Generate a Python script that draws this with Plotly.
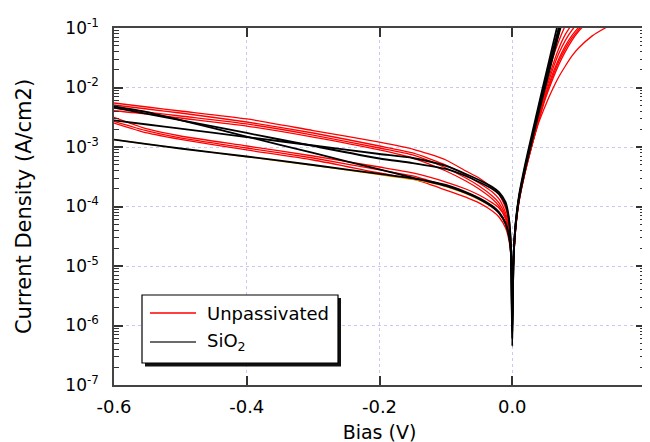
import plotly.graph_objects as go

# Bias grids (V)
v_rev = [-0.6, -0.55, -0.5, -0.4, -0.3, -0.2, -0.15, -0.1, -0.07, -0.05, -0.03, -0.02, -0.01, -0.005, -0.002, 0.0]
v_fwd = [0.002, 0.005, 0.01, 0.02, 0.03, 0.04, 0.05, 0.06, 0.07, 0.08, 0.09, 0.1, 0.12, 0.14, 0.16]

# Unpassivated devices: reverse branch |J| (A/cm2)
red_rev_1 = [5.49e-3, 4.70e-3, 4.03e-3, 2.96e-3, 1.89e-3, 1.21e-3, 9.25e-4, 6.05e-4, 3.95e-4, 3.01e-4, 2.05e-4, 1.62e-4, 9.44e-5, 5.28e-5, 2.44e-5, 3e-6]
red_rev_2 = [5.08e-3, 4.35e-3, 3.73e-3, 2.63e-3, 1.72e-3, 1.04e-3, 7.93e-4, 4.98e-4, 3.38e-4, 2.48e-4, 1.75e-4, 1.34e-4, 7.78e-5, 4.35e-5, 2.01e-5, 3e-6]
red_rev_3 = [4.52e-3, 3.87e-3, 3.32e-3, 2.44e-3, 1.59e-3, 9.62e-4, 7.34e-4, 4.44e-4, 3.01e-4, 2.21e-4, 1.50e-4, 1.15e-4, 6.92e-5, 4.03e-5, 1.86e-5, 3e-6]
red_rev_4 = [4.07e-3, 3.59e-3, 3.07e-3, 2.25e-3, 1.47e-3, 8.91e-4, 6.53e-4, 3.95e-4, 2.68e-4, 1.97e-4, 1.34e-4, 1.02e-4, 6.17e-5, 3.59e-5, 1.72e-5, 3e-6]
red_rev_5 = [3.16e-3, 2.01e-3, 1.53e-3, 1.04e-3, 7.06e-4, 4.61e-4, 3.66e-4, 2.58e-4, 1.97e-4, 1.56e-4, 1.15e-4, 9.44e-5, 6.41e-5, 4.03e-5, 2.01e-5, 3e-6]
red_rev_6 = [2.70e-3, 1.86e-3, 1.42e-3, 9.62e-4, 6.53e-4, 4.11e-4, 3.26e-4, 2.21e-4, 1.69e-4, 1.34e-4, 9.8e-5, 7.78e-5, 5.08e-5, 3.19e-5, 1.65e-5, 3e-6]
red_rev_7 = [2.53e-3, 1.72e-3, 1.34e-3, 8.91e-4, 6.05e-4, 3.66e-4, 2.90e-4, 1.89e-4, 1.44e-4, 1.15e-4, 8.40e-5, 6.66e-5, 4.35e-5, 2.73e-5, 1.47e-5, 3e-6]

# Unpassivated devices: forward branch J (A/cm2)
red_fwd_1 = [1.2e-5, 4.0e-5, 1.2e-4, 4.0e-4, 1.1e-3, 2.6e-3, 5.0e-3, 9.0e-3, 1.5e-2, 2.3e-2, 3.4e-2, 4.6e-2, 7.3e-2, 0.10, 0.13]
red_fwd_2 = [1.4e-5, 4.6e-5, 1.3e-4, 4.6e-4, 1.35e-3, 4.0e-3, 1.15e-2, 2.9e-2, 6.0e-2, 0.11, 0.18, 0.25, 0.40, 0.55, 0.70]
red_fwd_3 = [1.3e-5, 4.4e-5, 1.3e-4, 4.4e-4, 1.3e-3, 3.6e-3, 9.5e-3, 2.2e-2, 4.5e-2, 7.8e-2, 0.115, 0.16, 0.25, 0.35, 0.45]
red_fwd_4 = [1.3e-5, 4.3e-5, 1.25e-4, 4.3e-4, 1.2e-3, 3.3e-3, 8.5e-3, 1.9e-2, 3.7e-2, 6.2e-2, 9.2e-2, 0.125, 0.19, 0.26, 0.33]
red_fwd_5 = [1.2e-5, 4.2e-5, 1.2e-4, 4.2e-4, 1.15e-3, 3.0e-3, 7.5e-3, 1.6e-2, 3.0e-2, 5.0e-2, 7.5e-2, 0.102, 0.16, 0.22, 0.28]
red_fwd_6 = [1.2e-5, 4.1e-5, 1.2e-4, 4.1e-4, 1.1e-3, 2.9e-3, 7.0e-3, 1.45e-2, 2.7e-2, 4.5e-2, 6.8e-2, 0.094, 0.15, 0.21, 0.27]
red_fwd_7 = [1.2e-5, 4.0e-5, 1.15e-4, 4.0e-4, 1.1e-3, 2.8e-3, 6.5e-3, 1.3e-2, 2.4e-2, 4.0e-2, 6.2e-2, 0.088, 0.145, 0.20, 0.26]

# SiO2-passivated devices: reverse branch |J| (A/cm2)
blk_rev_1 = [4.83e-3, 3.87e-3, 2.84e-3, 1.50e-3, 7.93e-4, 4.21e-4, 3.06e-4, 2.21e-4, 1.69e-4, 1.34e-4, 9.8e-5, 7.78e-5, 5.08e-5, 3.19e-5, 1.65e-5, 6e-7]
blk_rev_2 = [2.81e-3, 2.39e-3, 2.03e-3, 1.47e-3, 1.06e-3, 7.63e-4, 6.53e-4, 4.80e-4, 3.52e-4, 2.79e-4, 2.13e-4, 1.75e-4, 1.19e-4, 6.41e-5, 2.17e-5, 4.5e-7]
blk_rev_3 = [4.61e-3, 3.61e-3, 2.84e-3, 1.72e-3, 1.04e-3, 6.41e-4, 5.38e-4, 4.27e-4, 3.26e-4, 2.58e-4, 1.97e-4, 1.62e-4, 1.06e-4, 5.93e-5, 2.17e-5, 1e-6]
blk_rev_4 = [1.33e-3, 1.12e-3, 9.44e-4, 6.92e-4, 4.98e-4, 3.52e-4, 2.96e-4, 2.30e-4, 1.75e-4, 1.39e-4, 1.02e-4, 8.09e-5, 5.28e-5, 3.32e-5, 1.65e-5, 8e-7]

# SiO2-passivated devices: forward branch J (A/cm2)
blk_fwd_1 = [1.5e-5, 5.0e-5, 1.4e-4, 5.0e-4, 1.5e-3, 4.5e-3, 1.3e-2, 3.7e-2, 0.10, 0.27, 0.7, 1.8, 5, 10, 20]
blk_fwd_2 = [1.5e-5, 5.2e-5, 1.5e-4, 5.5e-4, 1.7e-3, 5.2e-3, 1.55e-2, 4.6e-2, 0.135, 0.40, 1.0, 2.0, 5, 10, 20]
blk_fwd_3 = [1.4e-5, 4.8e-5, 1.35e-4, 4.7e-4, 1.4e-3, 4.1e-3, 1.15e-2, 3.2e-2, 8.6e-2, 0.23, 0.6, 1.5, 4, 9, 18]
blk_fwd_4 = [1.4e-5, 4.6e-5, 1.3e-4, 4.5e-4, 1.3e-3, 3.8e-3, 1.05e-2, 2.9e-2, 7.8e-2, 0.20, 0.5, 1.2, 3, 7, 15]

# Extra (orange) trace, mostly hidden under the lower black bundle
org_rev = [1.33e-3, 1.12e-3, 9.44e-4, 6.85e-4, 4.90e-4, 3.42e-4, 2.84e-4, 2.16e-4, 1.64e-4, 1.30e-4, 9.7e-5, 7.9e-5, 5.2e-5, 3.3e-5, 1.65e-5, 5e-6]
org_fwd = [1.4e-5, 4.6e-5, 1.3e-4, 4.5e-4, 1.3e-3, 3.8e-3, 1.05e-2, 2.9e-2, 7.8e-2, 0.20, 0.5, 1.2, 3, 7, 15]

red_curves = [(red_rev_1, red_fwd_1), (red_rev_2, red_fwd_2), (red_rev_3, red_fwd_3), (red_rev_4, red_fwd_4),
              (red_rev_5, red_fwd_5), (red_rev_6, red_fwd_6), (red_rev_7, red_fwd_7)]
blk_curves = [(blk_rev_1, blk_fwd_1), (blk_rev_2, blk_fwd_2), (blk_rev_3, blk_fwd_3), (blk_rev_4, blk_fwd_4)]

y_tickvals = [1e-7, 1e-6, 1e-5, 1e-4, 1e-3, 1e-2, 1e-1]
y_ticktext = ["10<sup>-7</sup>", "10<sup>-6</sup>", "10<sup>-5</sup>", "10<sup>-4</sup>",
              "10<sup>-3</sup>", "10<sup>-2</sup>", "10<sup>-1</sup>"]
x_tickvals = [-0.6, -0.4, -0.2, 0.0, 0.2]
x_ticktext = ["-0.6", "-0.4", "-0.2", "0.0", "0.2"]
legend_labels = ["Unpassivated", "SiO<sub>2</sub>"]
legend_colors = ["#FF0000", "#3a3a3a"]

FONT = "DejaVu Sans"
fig = go.Figure()
x_all = v_rev + v_fwd

for i, (rv, fw) in enumerate(red_curves):
    fig.add_trace(go.Scatter(x=x_all, y=rv + fw, mode="lines", name="Unpassivated",
                             legendgroup="unp", showlegend=False,
                             line=dict(color="#FF0000", width=1.3, shape="spline", smoothing=0.6)))

fig.add_trace(go.Scatter(x=x_all, y=org_rev + org_fwd, mode="lines", showlegend=False,
                         line=dict(color="#E89A00", width=1.2, shape="spline", smoothing=0.6)))

for i, (rv, fw) in enumerate(blk_curves):
    fig.add_trace(go.Scatter(x=x_all, y=rv + fw, mode="lines", name="SiO<sub>2</sub>",
                             legendgroup="sio2", showlegend=False,
                             line=dict(color="#000000", width=1.8, shape="spline", smoothing=0.6)))

# Plot-area geometry (pixels) used to place the hand-drawn legend box
L, R, T, B = 106, 637, 20, 377
def px(x):
    return (x - L) / (R - L)
def py(y):
    return (B - y) / (B - T)

shapes = [
    # shadow
    dict(type="rect", xref="paper", yref="paper", x0=px(137), x1=px(333), y0=py(358.5), y1=py(290),
         fillcolor="#111", line=dict(width=0), layer="above"),
    # box
    dict(type="rect", xref="paper", yref="paper", x0=px(134), x1=px(330), y0=py(355), y1=py(287),
         fillcolor="white", line=dict(color="black", width=1.2), layer="above"),
]
annotations = []
row_y = [305, 334]
for lab, col, ry in zip(legend_labels, legend_colors, row_y):
    shapes.append(dict(type="line", xref="paper", yref="paper", x0=px(142), x1=px(188), y0=py(ry), y1=py(ry),
                       line=dict(color=col, width=1.3 if col == "#FF0000" else 1.6), layer="above"))
    annotations.append(dict(text=lab, xref="paper", yref="paper", x=px(197), y=py(ry),
                            xanchor="left", yanchor="middle", showarrow=False,
                            font=dict(family=FONT, size=18, color="black")))

minor_vals = [k * 10.0 ** e for e in range(-7, -1) for k in range(2, 10)]

fig.update_layout(
    width=650, height=442,
    margin=dict(l=L, r=650 - R, t=T, b=442 - B),
    paper_bgcolor="white", plot_bgcolor="white",
    font=dict(family=FONT, color="black", size=18),
    showlegend=False,
    shapes=shapes, annotations=annotations,
    xaxis=dict(range=[-0.6, 0.2], tickmode="array", tickvals=x_tickvals, ticktext=x_ticktext,
               ticks="inside", ticklen=9, tickwidth=1.5, tickcolor="#333",
               showline=True, linecolor="#444", linewidth=1.5, mirror="allticks",
               showgrid=True, gridcolor="#C8C8F5", griddash="dot", gridwidth=1,
               zeroline=False, tickfont=dict(size=18), automargin=False, ticklabelstandoff=5,
               title=dict(text="Bias (V)", font=dict(size=19), standoff=9)),
    yaxis=dict(type="log", range=[-7, -1], tickmode="array", tickvals=y_tickvals, ticktext=y_ticktext,
               ticks="inside", ticklen=9, tickwidth=1.5, tickcolor="#333",
               minor=dict(tickmode="array", tickvals=minor_vals, ticks="inside", ticklen=5,
                          tickwidth=1, tickcolor="#333", showgrid=False),
               showline=True, linecolor="#444", linewidth=1.5, mirror="allticks",
               showgrid=True, gridcolor="#C8C8F5", griddash="dot", gridwidth=1,
               zeroline=False, tickfont=dict(size=17), automargin=False, ticklabelstandoff=10,
               title=dict(text="Current Density (A/cm2)", font=dict(size=21), standoff=28)),
)

fig.write_html("out.html")
